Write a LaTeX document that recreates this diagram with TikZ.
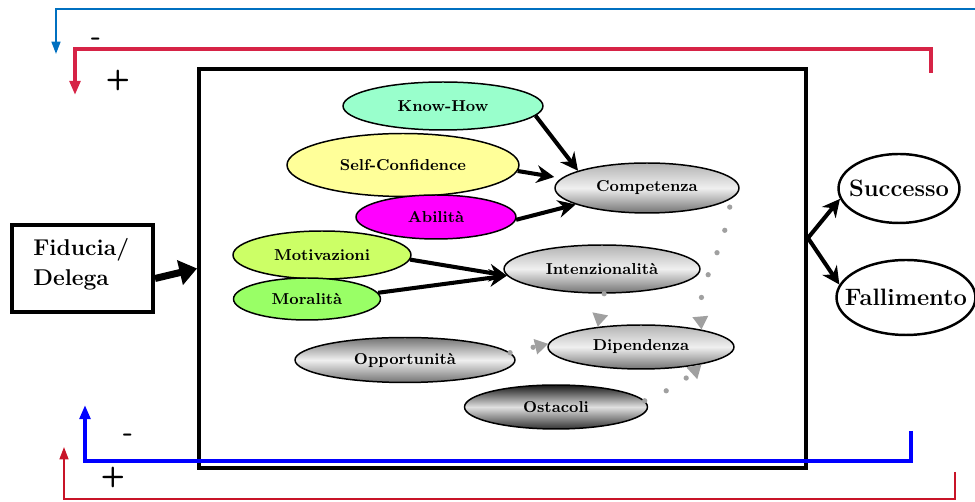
\documentclass[tikz,border=0pt]{standalone}
\usepackage{tikz}
\usetikzlibrary{arrows.meta,shapes.geometric,positioning}
\definecolor{menta}{RGB}{153,255,204}
\definecolor{giallo}{RGB}{255,255,153}
\definecolor{fucsia}{RGB}{255,0,255}
\definecolor{lime}{RGB}{204,255,102}
\definecolor{verde}{RGB}{153,255,102}
\definecolor{azzurro}{RGB}{0,112,192}
\definecolor{blu}{RGB}{0,0,255}
\definecolor{cremisi}{RGB}{214,35,70}
\definecolor{rosso}{RGB}{200,20,40}
\definecolor{puntini}{RGB}{160,160,160}
\tikzstyle{oval}=[ellipse, draw, line width=0.85pt, inner sep=0pt,
                  font=\fontsize{9}{10}\selectfont\bfseries]
\tikzstyle{grigio}=[oval, top color=black!30, bottom color=black!55,
                    middle color=black!6]
\tikzstyle{scuro}=[oval, top color=black!90, bottom color=black!80,
                   middle color=black!12]
\tikzstyle{esito}=[ellipse, draw, line width=1.4pt, inner sep=0pt,
                   font=\fontsize{13.5}{15}\selectfont\bfseries]
\tikzstyle{edge}=[line width=2.3pt, -{Stealth[length=10pt,width=10pt]}]
\tikzstyle{dots}=[draw=puntini, line width=3pt, line cap=round,
                  dash pattern=on 0pt off 13.5pt,
                  -{Triangle[length=7.5pt,width=8.5pt]}]
\tikzstyle{segno}=[font=\sffamily\bfseries\fontsize{16}{16}\selectfont,
                   inner sep=0pt]

\begin{document}
\begin{tikzpicture}[x=0.02cm, y=-0.02cm]
    \useasboundingbox (0,0) rectangle (975,502);

    % main box and input
    \draw (502.5,268.5) node(box)[draw, line width=2.3pt, minimum width=12.14cm,
        minimum height=7.98cm, inner sep=0pt]{};
    \draw (82.5,268.5) node(fid)[draw, line width=2.3pt, minimum width=2.82cm,
        minimum height=1.74cm]{};
    \draw (33,238) node(fidtxt)[anchor=north west, inner sep=0pt, align=left,
        font=\fontsize{13}{17}\selectfont\bfseries]{Fiducia/\\Delega};
    \draw [line width=4pt, -{Triangle[length=10pt,width=14pt]}]
        ([yshift=-0.2cm]fid.east) -- (box.west);

    % beliefs
    \draw (443,106) node(kh)[oval, fill=menta, minimum width=4cm,
        minimum height=0.96cm]{Know-How};
    \draw (403,165) node(sc)[oval, fill=giallo, minimum width=4.64cm,
        minimum height=1.26cm]{Self-Confidence};
    \draw (436,217) node(ab)[oval, fill=fucsia, minimum width=3.2cm,
        minimum height=0.88cm]{Abilità};
    \draw (322,255) node(mot)[oval, fill=lime, minimum width=3.56cm,
        minimum height=0.96cm]{Motivazioni};
    \draw (307,299) node(mor)[oval, fill=verde, minimum width=2.94cm,
        minimum height=0.84cm]{Moralità};

    \draw (647,188) node(comp)[grigio, minimum width=3.68cm,
        minimum height=1cm]{Competenza};
    \draw (602,269) node(int)[grigio, minimum width=3.92cm,
        minimum height=0.96cm]{Intenzionalità};
    \draw (641,347) node(dip)[grigio, minimum width=3.72cm,
        minimum height=0.88cm]{Dipendenza};
    \draw (405,360) node(opp)[grigio, top color=black!55, middle color=black!6,
        minimum width=4.4cm, minimum height=0.9cm]{Opportunità};
    \draw (556,407) node(ost)[scuro, minimum width=3.66cm,
        minimum height=0.88cm]{Ostacoli};

    % outcomes
    \draw (899,188.5) node(succ)[esito, minimum width=2.42cm,
        minimum height=1.38cm]{\makebox[0pt]{Successo}};
    \draw (906,297.5) node(fall)[esito, minimum width=2.78cm,
        minimum height=1.5cm]{\makebox[0pt]{Fallimento}};

    \foreach \i/\j in {kh.-6/comp.166, ab.-2/comp.193, mot.-3/int.184,
        mor.5/int.184}
        \draw [edge] (\i) -- (\j);
    \draw [edge] (sc.-3) -- ([yshift=0.22cm]comp.west);

    \draw [edge] ([yshift=0.61cm]box.east) -- (succ.190);
    \draw [edge] ([yshift=0.61cm]box.east) -- (fall.169);

    % dotted influences
    \draw [dots] ([yshift=-0.15cm]comp.-8) to[out=-98, in=95] (dip.16);
    \draw [dots] (int.-85) -- (dip.155);
    \draw [dots] (opp.4) -- (dip.178);
    \draw [dots] (ost.4) to[bend right=10] (dip.-16);

    % feedback loops
    \coordinate (t1) at (975,9);   \coordinate (t2) at (56,9);
    \coordinate (t3) at (56,54);
    \coordinate (r1) at (931,73);  \coordinate (r2) at (931,49);
    \coordinate (r3) at (75,49);   \coordinate (r4) at (75,95);
    \coordinate (b1) at (911,431); \coordinate (b2) at (911,461);
    \coordinate (b3) at (85,461);  \coordinate (b4) at (85,405);
    \coordinate (s1) at (955,472); \coordinate (s2) at (955,499);
    \coordinate (s3) at (64,499);  \coordinate (s4) at (64,447);

    \draw [azzurro, line width=1.2pt, -{Triangle[length=7pt,width=5pt]}]
        (t1) -- (t2) -- (t3);
    \draw [cremisi, line width=2.6pt, -{Triangle[length=8pt,width=6pt]}]
        (r1) -- (r2) -- (r3) -- (r4);
    \draw [blu, line width=2.8pt, -{Triangle[length=8pt,width=6pt]}]
        (b1) -- (b2) -- (b3) -- (b4);
    \draw [rosso, line width=1.1pt, -{Triangle[length=7pt,width=5pt]}]
        (s1) -- (s2) -- (s3) -- (s4);

    \draw (96,42) node(m1)[segno]{-};
    \draw (118,80) node(p1)[segno]{+};
    \draw (128,438) node(m2)[segno]{-};
    \draw (113,477) node(p2)[segno]{+};
\end{tikzpicture}
\end{document}
